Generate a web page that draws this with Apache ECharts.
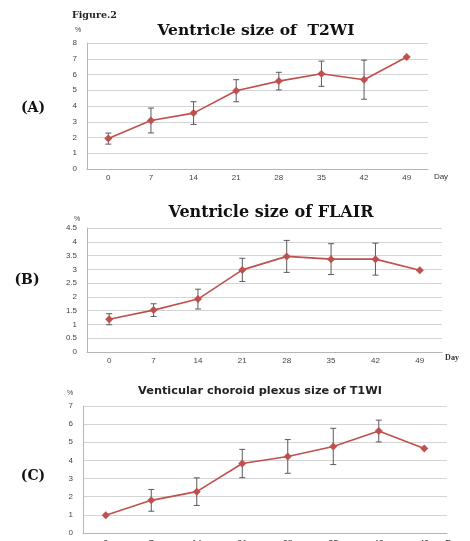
<!DOCTYPE html>
<html><head><meta charset="utf-8">
<script src="https://cdn.jsdelivr.net/npm/echarts@6/dist/echarts.min.js"></script>
<style>html,body{margin:0;padding:0;background:#fff}#c{width:470px;height:541px}</style>
</head><body><div id="c"></div>
<script>
var days = ['0','7','14','21','28','35','42','49'];
var t2wiMean = [1.93, 3.08, 3.55, 4.97, 5.58, 6.05, 5.67, 7.11];
var t2wiErr  = [0.35, 0.79, 0.72, 0.70, 0.56, 0.80, 1.24, 0];
var flairMean = [1.19, 1.52, 1.92, 2.98, 3.47, 3.37, 3.37, 2.97];
var flairErr  = [0.20, 0.23, 0.36, 0.42, 0.58, 0.56, 0.58, 0];
var t1wiMean = [0.98, 1.80, 2.28, 3.83, 4.22, 4.77, 5.62, 4.66];
var t1wiErr  = [0, 0.60, 0.76, 0.78, 0.93, 1.00, 0.60, 0];

var chart = echarts.init(document.getElementById('c'), null, {renderer:'canvas'});
var lineColor = '#C0504D';
var sans = 'Liberation Sans';
var serif = 'Liberation Serif';
var tserif = 'DejaVu Serif';

function errData(m, e){ return m.map(function(v,i){ return [i, v-e[i], v+e[i]]; }); }
function errRender(params, api){
  var lo = api.coord([api.value(0), api.value(1)]);
  var hi = api.coord([api.value(0), api.value(2)]);
  if (Math.abs(lo[1]-hi[1]) < 1) return null;
  var w = 3;
  var st = {stroke:'#5a5a5a', lineWidth:1};
  return {type:'group', children:[
    {type:'line', shape:{x1:lo[0],y1:lo[1],x2:hi[0],y2:hi[1]}, style:st},
    {type:'line', shape:{x1:lo[0]-w,y1:lo[1],x2:lo[0]+w,y2:lo[1]}, style:st},
    {type:'line', shape:{x1:hi[0]-w,y1:hi[1],x2:hi[0]+w,y2:hi[1]}, style:st}
  ]};
}
function xAx(idx, margin, fs){
  return {type:'category', gridIndex:idx, data:days, boundaryGap:true,
    axisLine:{lineStyle:{color:'#b5b5b5'}}, axisTick:{length:4, lineStyle:{color:'#b5b5b5'}},
    axisLabel:{fontFamily:sans, fontSize:fs, color:'#444', margin:margin}};
}
function yAx(idx, max, interval){
  return {type:'value', gridIndex:idx, min:0, max:max, interval:interval,
    axisLine:{show:true, lineStyle:{color:'#b5b5b5'}}, axisTick:{show:false},
    splitLine:{lineStyle:{color:'#d4d4d4'}},
    axisLabel:{fontFamily:sans, fontSize:8, color:'#444', margin:10}};
}
function lineS(idx, data){
  return {type:'line', xAxisIndex:idx, yAxisIndex:idx, data:data, symbol:'diamond', symbolSize:8,
    itemStyle:{color:lineColor}, lineStyle:{color:lineColor, width:1.6}, z:3};
}
function errS(idx, m, e){
  return {type:'custom', xAxisIndex:idx, yAxisIndex:idx, data:errData(m,e), renderItem:errRender,
    encode:{x:0, y:[1,2]}, z:2};
}

var option = {
  animation:false,
  grid:[
    {left:87, right:42, top:43, height:126, outerBoundsMode:'none', containLabel:false},
    {left:87, right:28, top:228, height:124, outerBoundsMode:'none', containLabel:false},
    {left:83, right:23, top:406, height:127, outerBoundsMode:'none', containLabel:false}
  ],
  xAxis:[xAx(0,5,8), xAx(1,5,8), xAx(2,6,9)],
  yAxis:[yAx(0,8,1), yAx(1,4.5,0.5), yAx(2,7,1)],
  series:[
    errS(0,t2wiMean,t2wiErr), lineS(0,t2wiMean),
    errS(1,flairMean,flairErr), lineS(1,flairMean),
    errS(2,t1wiMean,t1wiErr), lineS(2,t1wiMean)
  ],
  graphic:[
    {type:'text', x:72, y:16, style:{text:'Figure.2', font:'bold 9.5px '+tserif, fill:'#222', verticalAlign:'middle'}},
    {type:'text', x:256, y:31, style:{text:'Ventricle size of  T2WI', font:'bold 15.5px '+tserif, fill:'#111', align:'center', verticalAlign:'middle'}},
    {type:'text', x:78, y:30, style:{text:'%', font:'7px '+sans, fill:'#444', align:'center', verticalAlign:'middle'}},
    {type:'text', x:33, y:108, style:{text:'(A)', font:'bold 14px '+tserif, fill:'#111', align:'center', verticalAlign:'middle'}},
    {type:'text', x:441, y:177, style:{text:'Day', font:'8px '+sans, fill:'#333', align:'center', verticalAlign:'middle'}},

    {type:'text', x:271, y:213, style:{text:'Ventricle size of FLAIR', font:'bold 16px '+tserif, fill:'#111', align:'center', verticalAlign:'middle'}},
    {type:'text', x:77, y:219, style:{text:'%', font:'7px '+sans, fill:'#444', align:'center', verticalAlign:'middle'}},
    {type:'text', x:27, y:280, style:{text:'(B)', font:'bold 14px '+tserif, fill:'#111', align:'center', verticalAlign:'middle'}},
    {type:'text', x:452, y:358, style:{text:'Day', font:'bold 8px '+serif, fill:'#333', align:'center', verticalAlign:'middle'}},

    {type:'text', x:260, y:391, style:{text:'Venticular choroid plexus size of T1WI', font:'bold 11.3px DejaVu Sans', fill:'#222', align:'center', verticalAlign:'middle'}},
    {type:'text', x:70, y:393, style:{text:'%', font:'7px '+sans, fill:'#444', align:'center', verticalAlign:'middle'}},
    {type:'text', x:33, y:476, style:{text:'(C)', font:'bold 14px '+tserif, fill:'#111', align:'center', verticalAlign:'middle'}},
    {type:'text', x:453, y:544, style:{text:'Day', font:'bold 9px '+serif, fill:'#333', align:'center', verticalAlign:'middle'}}
  ]
};
chart.setOption(option);
</script></body></html>
